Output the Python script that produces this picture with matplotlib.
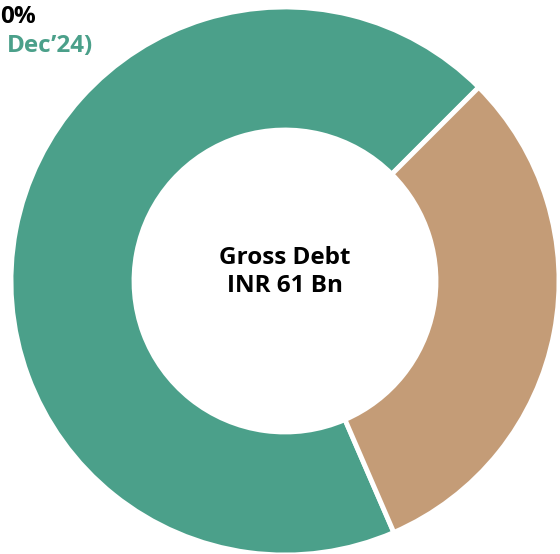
import matplotlib.pyplot as plt

# Gross debt split (share of total, %)
labels = ['Fixed', 'Floating']
shares = [69, 31]
colors = ['#4BA08A', '#C49C77']

fig = plt.figure(figsize=(5.6, 5.54), dpi=100)
ax = fig.add_axes([0, 0, 1, 1])

ax.pie(shares, colors=colors, startangle=45, center=(285, 273), radius=274,
       wedgeprops=dict(width=123, edgecolor='white', linewidth=3.5))

# pie resets the limits, so put pixel coordinates back afterwards
ax.set_xlim(0, 560)
ax.set_ylim(0, 554)
ax.set_aspect('equal')
ax.axis('off')

font = ['Open Sans', 'DejaVu Sans']
ax.text(285, 282, 'Gross Debt\nINR 61 Bn', ha='center', va='center',
        fontsize=17.5, fontweight='bold', family=font, linespacing=1.2)

# fragments of the side labels that show at the top-left corner
ax.text(0, 537, '0%', ha='left', va='center',
        fontsize=17.5, fontweight='bold', family=font, color='black')
ax.text(7, 508, 'Dec\u201924)', ha='left', va='center',
        fontsize=17.5, fontweight='bold', family=font, color='#4BA08A')

fig.savefig('out.png', dpi=100)
